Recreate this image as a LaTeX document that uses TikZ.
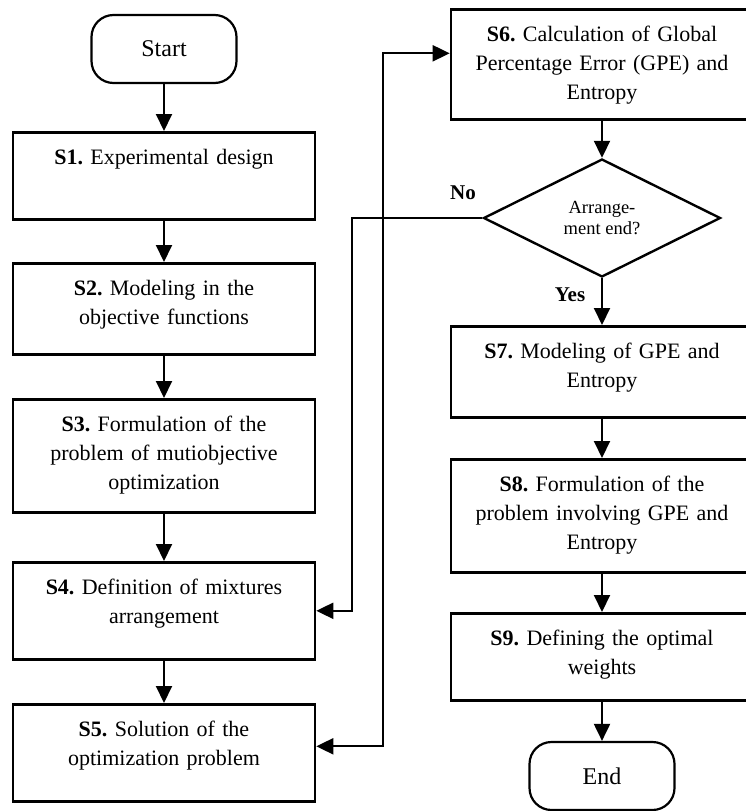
\documentclass[tikz,border=0pt]{standalone}
\usepackage{fontspec}
\setmainfont{Liberation Serif}
\frenchspacing
\usetikzlibrary{arrows.meta,positioning,shapes.geometric}

\begin{document}
\begin{tikzpicture}[x=1pt,y=-1pt,>={Triangle[length=17pt,width=16pt]},line join=miter]
\useasboundingbox (0,0) rectangle (746,811);
\clip (0,0) rectangle (746,811);
\path[fill=white] (0,0) rectangle (746,811);
\tikzset{stepbox/.style={draw=black,line width=2.6pt,minimum width=302pt,text width=294pt,align=center,inner sep=0pt,anchor=north,text height=32pt,text depth=#1,font=\fontsize{22}{29}\selectfont},term/.style={draw=black,line width=2.2pt,rounded corners=22pt,minimum width=145pt,minimum height=68pt,inner sep=0pt,font=\fontsize{24}{29}\selectfont},choice/.style={draw=black,diamond,line width=2.4pt,minimum width=237pt,minimum height=118pt,inner sep=0pt,align=center,font=\fontsize{18.5}{21}\selectfont},flow/.style={draw=black,line width=2pt,->},tag/.style={font=\bfseries\fontsize{21}{25}\selectfont}}
% left column
\node[term] (start) at (164,49) {Start};
\node[stepbox=55pt] (s1) at (164,131) {\textbf{S1.} Experimental design};
\node[stepbox=59pt] (s2) at (164,262) {\textbf{S2.} Modeling in the\\objective functions};
\node[stepbox=81pt] (s3) at (164,398) {\textbf{S3.} Formulation of the\\problem of mutiobjective\\optimization};
\node[stepbox=65pt] (s4) at (164,561) {\textbf{S4.} Definition of mixtures\\arrangement};
\node[stepbox=65pt] (s5) at (164,703) {\textbf{S5.} Solution of the\\optimization problem};
% right column
\node[stepbox=78pt] (s6) at (602,8) {\textbf{S6.} Calculation of Global\\Percentage Error (GPE) and\\Entropy};
\node[choice] (dec) at (602,218) {Arrange-\\ment end?};
\node[stepbox=59pt] (s7) at (602,325) {\textbf{S7.} Modeling of GPE and\\Entropy};
\node[stepbox=81pt] (s8) at (602,458) {\textbf{S8.} Formulation of the\\problem involving GPE and\\Entropy};
\node[stepbox=55pt] (s9) at (602,612) {\textbf{S9.} Defining the optimal\\weights};
\node[term] (end) at (602,776) {End};
\node[tag] (no) at (463,193) {No}; \node[tag] (yes) at (570,295) {Yes};
\draw[flow] (start) -- (s1); \draw[flow] (s1) -- (s2); \draw[flow] (s2) -- (s3); \draw[flow] (s3) -- (s4); \draw[flow] (s4) -- (s5);
\draw[flow] (s6) -- (dec); \draw[flow] (dec) -- (s7); \draw[flow] (s7) -- (s8); \draw[flow] (s8) -- (s9); \draw[flow] (s9) -- (end);
\draw[flow] (dec.west) -- ++(-130,0) |- (s4.east);
\draw[flow,<->] ([yshift=6.5pt]s5.east) -- ++(67,0) |- ([yshift=11pt]s6.west);
\end{tikzpicture}
\end{document}
